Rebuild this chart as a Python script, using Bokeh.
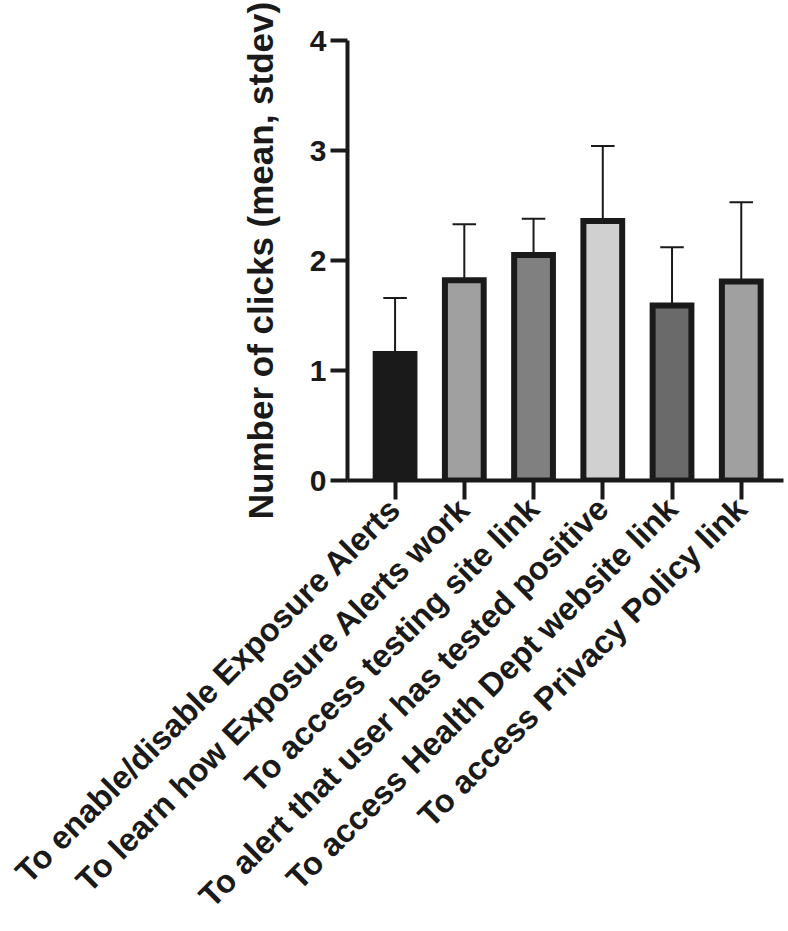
import math
from bokeh.plotting import figure
from bokeh.models import Range1d, FixedTicker
from bokeh.embed import file_html
from bokeh.resources import INLINE

categories = [
    "To enable/disable Exposure Alerts",
    "To learn how Exposure Alerts work",
    "To access testing site link",
    "To alert that user has tested positive",
    "To access Health Dept website link",
    "To access Privacy Policy link",
]
means = [1.15, 1.82, 2.05, 2.36, 1.59, 1.81]
stdevs = [0.51, 0.51, 0.33, 0.68, 0.53, 0.72]
fills = ["#1a1a1a", "#a0a0a0", "#808080", "#d0d0d0", "#6a6a6a", "#a0a0a0"]
y_ticks = [0, 1, 2, 3, 4]

INK = "#1a1a1a"
xs = list(range(1, len(categories) + 1))

p = figure(width=786, height=929, output_backend="svg", toolbar_location=None,
           x_range=Range1d(0.313, 6.61), y_range=Range1d(0, 4),
           min_border_left=347, min_border_right=3, min_border_top=40,
           min_border_bottom=448)
p.outline_line_color = None
p.grid.visible = False
p.background_fill_color = "white"

tops = [m + s for m, s in zip(means, stdevs)]
p.segment(x0=xs, y0=means, x1=xs, y1=tops, line_color=INK, line_width=2)
p.segment(x0=[x - 0.17 for x in xs], y0=tops, x1=[x + 0.17 for x in xs], y1=tops,
          line_color=INK, line_width=2)
p.vbar(x=xs, top=means, bottom=0, width=0.56, fill_color=fills,
       line_color=INK, line_width=6, line_join="miter")

# y axis
ya = p.yaxis[0]
ya.ticker = FixedTicker(ticks=y_ticks)
ya.minor_tick_line_color = None
ya.axis_line_width = 4
ya.axis_line_color = INK
ya.major_tick_line_width = 4
ya.major_tick_line_color = INK
ya.major_tick_out = 17
ya.major_tick_in = 0
ya.major_label_text_font = "Liberation Sans"
ya.major_label_text_font_style = "bold"
ya.major_label_text_font_size = "30px"
ya.major_label_text_color = INK
ya.major_label_standoff = 4
ya.axis_label = "Number of clicks (mean, stdev)"
ya.axis_label_text_font = "Liberation Sans"
ya.axis_label_text_font_style = "bold"
ya.axis_label_text_font_size = "35px"
ya.axis_label_text_color = INK
ya.axis_label_standoff = 27

# x axis
xa = p.xaxis[0]
xa.ticker = FixedTicker(ticks=xs)
xa.major_label_overrides = {x: c for x, c in zip(xs, categories)}
xa.minor_tick_line_color = None
xa.axis_line_width = 4
xa.axis_line_color = INK
xa.major_tick_line_width = 4
xa.major_tick_line_color = INK
xa.major_tick_out = 19
xa.major_tick_in = 0
xa.major_label_orientation = math.pi / 4
xa.major_label_text_font = "Liberation Sans"
xa.major_label_text_font_style = "bold"
xa.major_label_text_font_size = "32.5px"
xa.major_label_text_color = INK
xa.major_label_standoff = 4

open("out.html", "w").write(file_html(p, INLINE))
